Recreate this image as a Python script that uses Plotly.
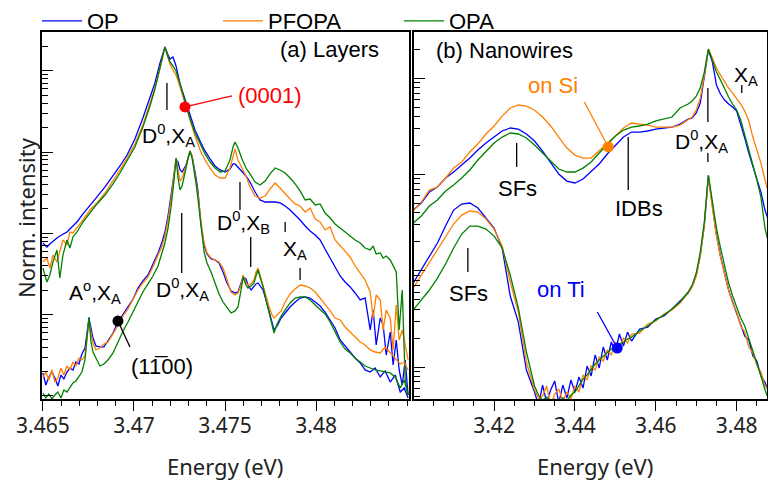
import numpy as np
import plotly.graph_objects as go

# ---------------- DATA ----------------
# Intensities are stored as log10(normalized intensity).
samples = ["OP", "PFOPA", "OPA"]
colors = {"OP": "#0000ff", "PFOPA": "#ff7f00", "OPA": "#008000"}

# Panel (a) Layers, upper group: (0001) layers
a_top_energy = [3.46500, 3.46522, 3.46538, 3.46555, 3.46577, 3.46593, 3.46610, 3.46632, 3.46648, 3.46665,
                3.46687, 3.46720, 3.46758, 3.46797, 3.46841, 3.46885, 3.46923, 3.46962, 3.47005, 3.47049,
                3.47088, 3.47115, 3.47143, 3.47159, 3.47170, 3.47187, 3.47198, 3.47214, 3.47231, 3.47253,
                3.47280, 3.47308, 3.47335, 3.47363, 3.47390, 3.47418, 3.47445, 3.47473, 3.47500, 3.47527,
                3.47544, 3.47555, 3.47571, 3.47593, 3.47615, 3.47637, 3.47665, 3.47692, 3.47720, 3.47747,
                3.47775, 3.47802, 3.47830, 3.47857, 3.47885, 3.47912, 3.47940, 3.47967, 3.47995, 3.48022,
                3.48049, 3.48077, 3.48104, 3.48132, 3.48159, 3.48187, 3.48214, 3.48242, 3.48269, 3.48297,
                3.48313, 3.48330, 3.48352, 3.48368, 3.48385, 3.48407, 3.48423, 3.48440, 3.48456, 3.48473,
                3.48489, 3.48505]
a_top_op = [1.882, 1.833, 1.870, 1.907, 1.943, 1.968, 1.993, 2.017, 2.054, 2.091,
            2.140, 2.239, 2.337, 2.448, 2.571, 2.706, 2.829, 2.964, 3.161, 3.419,
            3.665, 3.850, 4.096, 4.231, 4.293, 4.194, 4.145, 4.170, 4.059, 3.838,
            3.653, 3.432, 3.272, 3.137, 3.014, 2.915, 2.829, 2.780, 2.755, 2.792,
            2.854, 2.854, 2.817, 2.768, 2.706, 2.632, 2.509, 2.411, 2.386, 2.386,
            2.386, 2.374, 2.337, 2.288, 2.226, 2.165, 2.091, 2.030, 1.980, 1.919,
            1.808, 1.697, 1.599, 1.476, 1.402, 1.341, 1.267, 1.181, 1.205, 0.812,
            1.058, 0.627, 0.959, 0.873, 0.504, 0.787, 0.381, 0.689, 0.320, 0.135,
            0.443, 0.012]
a_top_pfopa = [1.648, 1.697, 1.574, 1.734, 1.648, 1.796, 1.919, 1.857, 2.017, 2.005,
               2.066, 2.165, 2.288, 2.374, 2.497, 2.644, 2.780, 2.927, 3.100, 3.333,
               3.592, 3.788, 4.034, 4.194, 4.293, 4.158, 4.084, 4.010, 3.948, 3.801,
               3.604, 3.383, 3.198, 3.026, 2.903, 2.804, 2.718, 2.681, 2.681, 2.804,
               2.964, 3.038, 2.903, 2.804, 2.706, 2.571, 2.460, 2.435, 2.460, 2.546,
               2.620, 2.558, 2.485, 2.423, 2.362, 2.337, 2.263, 2.312, 2.177, 2.140,
               2.042, 2.079, 1.919, 1.845, 1.771, 1.710, 1.599, 1.513, 1.427, 1.279,
               0.959, 1.242, 1.181, 0.812, 1.058, 0.959, 0.566, 1.119, 0.689, 0.812,
               0.627, 0.443]
a_top_opa = [1.574, 1.402, 1.488, 1.648, 1.796, 1.451, 1.734, 1.919, 1.820, 1.956,
             2.017, 2.140, 2.251, 2.362, 2.472, 2.608, 2.743, 2.891, 3.063, 3.309,
             3.567, 3.776, 4.047, 4.207, 4.293, 4.170, 4.108, 4.059, 3.998, 3.838,
             3.628, 3.407, 3.235, 3.100, 2.977, 2.878, 2.804, 2.755, 2.768, 2.903,
             3.063, 3.124, 3.050, 2.915, 2.804, 2.731, 2.632, 2.595, 2.644, 2.731,
             2.804, 2.780, 2.743, 2.681, 2.608, 2.522, 2.411, 2.423, 2.349, 2.362,
             2.251, 2.189, 2.116, 2.066, 2.017, 1.968, 1.919, 1.882, 1.820, 1.796,
             1.845, 1.747, 1.759, 1.697, 1.722, 1.673, 1.599, 1.525, 0.812, 1.304,
             0.197, 0.012]

# Panel (a) Layers, lower group: (1-100) layers
a_bot_energy = [3.46500, 3.46516, 3.46533, 3.46549, 3.46566, 3.46582, 3.46599, 3.46615, 3.46632, 3.46648,
                3.46665, 3.46681, 3.46698, 3.46714, 3.46731, 3.46742, 3.46753, 3.46764, 3.46775, 3.46791,
                3.46813, 3.46835, 3.46857, 3.46885, 3.46912, 3.46940, 3.46967, 3.46995, 3.47022, 3.47049,
                3.47077, 3.47104, 3.47132, 3.47154, 3.47170, 3.47187, 3.47203, 3.47220, 3.47231, 3.47242,
                3.47253, 3.47264, 3.47275, 3.47286, 3.47297, 3.47308, 3.47319, 3.47330, 3.47341, 3.47352,
                3.47368, 3.47385, 3.47401, 3.47423, 3.47445, 3.47467, 3.47489, 3.47511, 3.47533, 3.47555,
                3.47571, 3.47588, 3.47599, 3.47615, 3.47626, 3.47643, 3.47659, 3.47670, 3.47681, 3.47692,
                3.47709, 3.47725, 3.47742, 3.47758, 3.47769, 3.47786, 3.47808, 3.47830, 3.47857, 3.47885,
                3.47912, 3.47940, 3.47967, 3.47995, 3.48022, 3.48049, 3.48077, 3.48104, 3.48132, 3.48159,
                3.48187, 3.48214, 3.48242, 3.48269, 3.48297, 3.48324, 3.48352, 3.48379, 3.48407, 3.48434,
                3.48462, 3.48484, 3.48505]
a_bot_op = [0.283, 0.135, 0.234, 0.295, 0.221, 0.123, 0.258, 0.209, 0.295, 0.344,
            0.320, 0.418, 0.394, 0.517, 0.590, 0.812, 0.959, 0.836, 0.713, 0.615,
            0.603, 0.603, 0.677, 0.775, 0.910, 1.009, 1.095, 1.193, 1.328, 1.415,
            1.488, 1.611, 1.759, 1.894, 2.017, 2.214, 2.460, 2.755, 2.903, 2.878,
            2.780, 2.755, 2.792, 2.841, 2.927, 3.001, 2.952, 2.829, 2.681, 2.509,
            2.103, 1.857, 1.747, 1.685, 1.673, 1.636, 1.525, 1.390, 1.292, 1.267,
            1.279, 1.390, 1.464, 1.439, 1.365, 1.304, 1.341, 1.378, 1.390, 1.353,
            1.304, 1.181, 1.033, 0.898, 0.812, 0.861, 0.959, 1.021, 1.095, 1.156,
            1.205, 1.218, 1.205, 1.156, 1.107, 1.033, 0.935, 0.836, 0.689, 0.615,
            0.541, 0.467, 0.406, 0.320, 0.295, 0.344, 0.234, 0.308, 0.172, 0.258,
            0.049, 0.098, -0.025]
a_bot_pfopa = [0.234, 0.295, 0.197, 0.320, 0.172, 0.221, 0.344, 0.258, 0.369, 0.320,
               0.418, 0.369, 0.467, 0.443, 0.492, 0.750, 0.935, 0.775, 0.652, 0.566,
               0.590, 0.640, 0.664, 0.763, 0.873, 0.984, 1.070, 1.181, 1.304, 1.390,
               1.464, 1.587, 1.722, 1.845, 1.968, 2.165, 2.411, 2.718, 2.927, 2.780,
               2.644, 2.681, 2.743, 2.829, 2.927, 3.014, 2.952, 2.804, 2.657, 2.472,
               2.140, 1.882, 1.759, 1.697, 1.673, 1.648, 1.574, 1.427, 1.279, 1.242,
               1.267, 1.365, 1.488, 1.390, 1.365, 1.378, 1.427, 1.525, 1.574, 1.488,
               1.365, 1.230, 1.095, 0.996, 0.959, 0.996, 1.046, 1.156, 1.255, 1.316,
               1.365, 1.353, 1.328, 1.279, 1.205, 1.132, 1.046, 0.959, 0.935, 0.849,
               0.787, 0.726, 0.664, 0.627, 0.566, 0.541, 0.529, 0.603, 0.529, 0.467,
               0.394, 0.418, 0.320]
a_bot_opa = [0.037, -0.025, 0.025, -0.037, 0.012, 0.049, -0.025, 0.074, 0.049, 0.098,
             0.160, 0.185, 0.246, 0.295, 0.443, 0.713, 0.972, 0.664, 0.541, 0.467,
             0.369, 0.394, 0.443, 0.529, 0.664, 0.800, 0.910, 1.033, 1.156, 1.279,
             1.378, 1.476, 1.599, 1.747, 1.882, 2.066, 2.312, 2.657, 2.927, 2.681,
             2.534, 2.583, 2.681, 2.804, 2.927, 3.014, 2.927, 2.780, 2.608, 2.411,
             2.066, 1.771, 1.636, 1.525, 1.390, 1.255, 1.156, 1.095, 1.021, 1.046,
             1.095, 1.304, 1.464, 1.365, 1.328, 1.353, 1.390, 1.476, 1.550, 1.464,
             1.341, 1.181, 1.021, 0.849, 0.775, 0.886, 0.984, 1.058, 1.144, 1.205,
             1.218, 1.218, 1.181, 1.119, 1.058, 1.009, 0.910, 0.787, 0.664, 0.578,
             0.529, 0.467, 0.418, 0.369, 0.344, 0.320, 0.308, 0.295, 0.283, 0.234,
             0.098, 0.197, 0.012]

# Panel (b) Nanowires, upper group: on Si
b_top_energy = [3.400, 3.402, 3.404, 3.406, 3.408, 3.410, 3.412, 3.414, 3.416, 3.418,
                3.420, 3.422, 3.424, 3.426, 3.428, 3.430, 3.432, 3.434, 3.436, 3.438,
                3.440, 3.442, 3.444, 3.446, 3.448, 3.450, 3.452, 3.454, 3.456, 3.458,
                3.460, 3.462, 3.464, 3.466, 3.468, 3.469, 3.470, 3.471, 3.472, 3.473,
                3.474, 3.475, 3.476, 3.477, 3.478, 3.479, 3.480, 3.481, 3.482, 3.483,
                3.484, 3.485, 3.486, 3.487, 3.488]
b_top_op = [1.630, 1.703, 1.817, 1.869, 1.963, 2.025, 2.098, 2.170, 2.253, 2.326,
            2.388, 2.451, 2.482, 2.471, 2.420, 2.347, 2.243, 2.118, 2.004, 1.931,
            1.911, 1.952, 2.025, 2.108, 2.212, 2.295, 2.388, 2.440, 2.440, 2.451,
            2.471, 2.482, 2.492, 2.523, 2.575, 2.586, 2.638, 2.741, 3.001, 3.292,
            3.167, 2.928, 2.835, 2.773, 2.731, 2.700, 2.658, 2.523, 2.378, 2.222,
            2.087, 1.963, 1.817, 1.630, 1.505]
b_top_pfopa = [1.620, 1.713, 1.838, 1.869, 1.963, 2.066, 2.129, 2.233, 2.316, 2.420,
               2.503, 2.606, 2.690, 2.721, 2.710, 2.669, 2.596, 2.503, 2.388, 2.274,
               2.201, 2.170, 2.170, 2.243, 2.316, 2.399, 2.482, 2.534, 2.523, 2.513,
               2.492, 2.492, 2.492, 2.513, 2.565, 2.596, 2.669, 2.793, 3.032, 3.302,
               3.209, 3.105, 3.032, 2.960, 2.897, 2.845, 2.793, 2.731, 2.658, 2.555,
               2.388, 2.253, 2.118, 1.942, 1.786]
b_top_opa = [1.495, 1.568, 1.672, 1.734, 1.828, 1.890, 1.963, 2.046, 2.150, 2.243,
             2.326, 2.388, 2.430, 2.420, 2.378, 2.305, 2.222, 2.129, 2.056, 2.025,
             2.025, 2.066, 2.129, 2.222, 2.316, 2.399, 2.461, 2.492, 2.503, 2.523,
             2.555, 2.575, 2.596, 2.690, 2.731, 2.762, 2.814, 2.897, 3.063, 3.302,
             3.188, 3.063, 2.980, 2.887, 2.804, 2.731, 2.669, 2.565, 2.399, 2.253,
             2.098, 1.942, 1.765, 1.443, 1.267]

# Panel (b) Nanowires, lower group: on Ti
b_bot_energy = [3.400, 3.402, 3.404, 3.406, 3.408, 3.410, 3.412, 3.414, 3.416, 3.418,
                3.420, 3.422, 3.424, 3.426, 3.428,
                3.430, 3.431, 3.432, 3.433, 3.434, 3.435, 3.436, 3.437, 3.438, 3.439,
                3.440, 3.441, 3.442, 3.443, 3.444, 3.445, 3.446, 3.447, 3.448, 3.449,
                3.450, 3.451, 3.452, 3.453, 3.454,
                3.456, 3.458, 3.460, 3.462, 3.464, 3.466, 3.468,
                3.469, 3.470, 3.471, 3.472, 3.473, 3.474, 3.475, 3.476, 3.477, 3.478,
                3.479, 3.480, 3.481, 3.482, 3.483, 3.484, 3.485, 3.486, 3.487, 3.488]
b_bot_op = [0.872, 1.007, 1.142, 1.288, 1.464, 1.630, 1.692, 1.703, 1.651, 1.547,
            1.443, 1.236, 0.737, 0.467, -0.031,
            -0.260, -0.395, -0.187, -0.364, -0.239, -0.145, -0.374, -0.187, -0.322, -0.135,
            -0.260, -0.104, -0.218, 0.010, -0.093, 0.125, -0.010, 0.208, 0.073, 0.260,
            0.156, 0.343, 0.218, 0.363, 0.270,
            0.395, 0.415, 0.498, 0.530, 0.602, 0.685, 0.768,
            0.841, 0.955, 1.163, 1.475, 1.983, 1.661, 1.371, 1.152, 0.976, 0.800,
            0.675, 0.550, 0.447, 0.322, 0.280, 0.114, 0.062, -0.093, -0.156, -0.280]
b_bot_pfopa = [0.820, 0.955, 1.090, 1.225, 1.360, 1.485, 1.578, 1.620, 1.609, 1.537,
               1.433, 1.256, 0.883, 0.571, 0.052,
               -0.239, -0.322, -0.301, -0.197, -0.395, -0.280, -0.228, -0.353, -0.260, -0.332,
               -0.197, -0.260, -0.083, -0.135, 0.010, -0.031, 0.104, 0.062, 0.177, 0.125,
               0.260, 0.197, 0.301, 0.249, 0.343,
               0.353, 0.447, 0.478, 0.550, 0.592, 0.665, 0.768,
               0.831, 0.945, 1.152, 1.464, 1.973, 1.651, 1.360, 1.142, 0.965, 0.800,
               0.665, 0.571, 0.426, 0.363, 0.208, 0.145, 0.021, -0.052, -0.197, -0.239]
b_bot_opa = [0.592, 0.696, 0.800, 0.924, 1.070, 1.236, 1.381, 1.464, 1.464, 1.433,
             1.360, 1.236, 0.955, 0.613, 0.156,
             -0.197, -0.291, -0.343, -0.312, -0.364, -0.332, -0.384, -0.322, -0.353, -0.291,
             -0.260, -0.197, -0.125, -0.083, -0.021, 0.031, 0.073, 0.114, 0.145, 0.187,
             0.208, 0.239, 0.260, 0.291, 0.311,
             0.374, 0.426, 0.488, 0.540, 0.602, 0.675, 0.779,
             0.852, 0.976, 1.194, 1.505, 1.994, 1.692, 1.443, 1.236, 1.048, 0.872,
             0.737, 0.633, 0.509, 0.426, 0.301, 0.177, 0.052, -0.093, -0.239, -0.343]

# Labelled points (energy, log10 intensity)
mark_0001 = (3.47280, 3.555)
mark_1100 = (3.46912, 0.922)
mark_si = (3.44825, 2.285)
mark_ti = (3.45047, 0.197)

x_ticks_a = [3.465, 3.47, 3.475, 3.48]
x_ticks_b = [3.42, 3.44, 3.46, 3.48]

# ---------------- FIGURE ----------------
W, H = 768, 481
fig = go.Figure()

groups = [
    ("x", "y", a_top_energy, {"OP": a_top_op, "PFOPA": a_top_pfopa, "OPA": a_top_opa}),
    ("x", "y", a_bot_energy, {"OP": a_bot_op, "PFOPA": a_bot_pfopa, "OPA": a_bot_opa}),
    ("x2", "y2", b_top_energy, {"OP": b_top_op, "PFOPA": b_top_pfopa, "OPA": b_top_opa}),
    ("x2", "y2", b_bot_energy, {"OP": b_bot_op, "PFOPA": b_bot_pfopa, "OPA": b_bot_opa}),
]
shown = set()
for xa, ya, en, series in groups:
    for s in samples:
        fig.add_trace(go.Scatter(
            x=en, y=np.power(10.0, series[s]), mode="lines", name=s,
            line=dict(color=colors[s], width=1.3),
            legendgroup=s, showlegend=(s not in shown), xaxis=xa, yaxis=ya,
            hoverinfo="skip"))
        shown.add(s)

ANN_FONT = "Liberation Sans, Arial, sans-serif"
AX_FONT = "Noto Sans, sans-serif"

def txt(x, y, t, xref="x", yref="y", color="black", size=21):
    # annotation y on a log axis is given as log10
    fig.add_annotation(x=x, y=y, xref=xref, yref=yref, text=t, showarrow=False,
                       font=dict(family=ANN_FONT, size=size, color=color),
                       xanchor="center", yanchor="middle")

def seg(x0, l0, x1, l1, xref="x", yref="y", color="black", width=1.3):
    # shape y on a log axis is given in data units
    fig.add_shape(type="line", x0=x0, y0=10 ** l0, x1=x1, y1=10 ** l1, xref=xref, yref=yref,
                  line=dict(color=color, width=width), layer="above")

D0XA = "D<sup>0</sup>,X<sub>A</sub>"
# panel (a)
txt(3.48071, 4.256, "(a) Layers", size=22)
txt(3.47747, 3.690, "(0001)", color="#ff0000", size=22)
seg(3.47280, 3.555, 3.47538, 3.690, color="#ff0000")
txt(3.47187, 3.210, D0XA)
seg(3.47181, 3.850, 3.47181, 3.518)
txt(3.47264, 1.304, D0XA)
seg(3.47262, 2.251, 3.47262, 1.513)
txt(3.47599, 2.140, "D<sup>0</sup>,X<sub>B</sub>")
seg(3.47582, 2.632, 3.47582, 2.288)
seg(3.47641, 1.956, 3.47641, 1.587)
txt(3.47885, 1.796, "X<sub>A</sub>")
seg(3.47830, 2.140, 3.47830, 2.017)
seg(3.47912, 1.574, 3.47912, 1.427)
txt(3.46786, 1.279, "A<sup>o</sup>,X<sub>A</sub>")
seg(3.46912, 0.922, 3.46978, 0.603)
txt(3.47154, 0.357, "(11\u030500)", size=22)
# panel (b)
txt(3.42264, 3.292, "(b) Nanowires", "x2", "y2", size=22)
txt(3.43446, 2.928, "on Si", "x2", "y2", color="#ff7f00", size=22)
seg(3.44234, 2.752, 3.44825, 2.285, "x2", "y2", color="#ff7f00")
txt(3.42584, 1.859, "SFs", "x2", "y2", size=22)
seg(3.42559, 2.326, 3.42559, 2.077, "x2", "y2")
txt(3.45589, 1.651, "IDBs", "x2", "y2", size=22)
seg(3.45318, 2.388, 3.45318, 1.838, "x2", "y2")
txt(3.47140, 2.347, D0XA, "x2", "y2")
seg(3.47288, 2.897, 3.47288, 2.544, "x2", "y2")
seg(3.47288, 2.222, 3.47288, 2.129, "x2", "y2")
txt(3.48224, 3.022, "X<sub>A</sub>", "x2", "y2")
seg(3.48126, 2.928, 3.48126, 2.845, "x2", "y2")
txt(3.41377, 0.768, "SFs", "x2", "y2", size=22)
seg(3.41352, 1.236, 3.41352, 0.986, "x2", "y2")
txt(3.43667, 0.800, "on Ti", "x2", "y2", color="#0000ff", size=22)
seg(3.44554, 0.571, 3.45047, 0.197, "x2", "y2", color="#0000ff")

# markers (drawn after lines)
for (px, pl), col, xa, ya in [(mark_0001, "#ff0000", "x", "y"), (mark_1100, "#000000", "x", "y"),
                              (mark_si, "#ff7f00", "x2", "y2"), (mark_ti, "#0000ff", "x2", "y2")]:
    fig.add_trace(go.Scatter(x=[px], y=[10 ** pl], mode="markers",
                             marker=dict(color=col, size=11), showlegend=False,
                             xaxis=xa, yaxis=ya, hoverinfo="skip"))

# axis titles
for xp, yp, t, ang in [(225, 466, "Energy (eV)", 0), (595, 466, "Energy (eV)", 0),
                       (26, 218, "Norm. intensity", -90)]:
    fig.add_annotation(x=xp / W, y=1 - yp / H, xref="paper", yref="paper", text=t,
                       xanchor="center", yanchor="middle", showarrow=False, textangle=ang,
                       font=dict(family=AX_FONT, size=22, color="#222"))

minor_a = [k * 10.0 ** n for n in range(0, 5) for k in range(2, 10)]
minor_b = [k * 10.0 ** n for n in range(-1, 4) for k in range(2, 10)]

ydom = [1 - 399 / H, 1 - 32 / H]
common_x = dict(showline=True, linecolor="black", linewidth=1.5, mirror=True, showgrid=False,
                zeroline=False, ticks="outside", ticklen=10, tickwidth=1.3, tickcolor="black",
                automargin=False, ticklabelstandoff=-3,
                tickfont=dict(family=AX_FONT, size=21, color="#222"))
common_y = dict(type="log", showline=True, linecolor="black", linewidth=1.5, mirror=True,
                showgrid=False, zeroline=False, ticks="inside", ticklen=11, tickwidth=1.3,
                automargin=False,
                tickcolor="black", showticklabels=False, tickvals=[1, 10, 100, 1000, 10000])

fig.update_layout(
    width=W, height=H, margin=dict(l=0, r=0, t=0, b=0, autoexpand=False),
    paper_bgcolor="white", plot_bgcolor="white",
    xaxis=dict(domain=[42 / W, 409 / W], range=[3.46495, 3.4851], anchor="y",
               tickvals=x_ticks_a, ticktext=["3.465", "3.47", "3.475", "3.48"],
               minor=dict(ticks="outside", ticklen=5, tickwidth=1.1, tickcolor="black",
                          dtick=0.001, tick0=3.465), **common_x),
    yaxis=dict(domain=ydom, range=[-0.037, 4.477], anchor="x",
               minor=dict(ticks="inside", ticklen=6, tickwidth=1.1, tickcolor="black",
                          tickvals=minor_a), **common_y),
    xaxis2=dict(domain=[414 / W, 767 / W], range=[3.4002, 3.4875], anchor="y2",
                tickvals=x_ticks_b, ticktext=["3.42", "3.44", "3.46", "3.48"],
                minor=dict(ticks="outside", ticklen=5, tickwidth=1.1, tickcolor="black",
                           dtick=0.005, tick0=3.40), **common_x),
    yaxis2=dict(domain=ydom, range=[-0.332, 3.479], anchor="x2",
                minor=dict(ticks="inside", ticklen=6, tickwidth=1.1, tickcolor="black",
                           tickvals=minor_b), **common_y),
    legend=dict(orientation="h", x=37 / W, y=1.0, xanchor="left", yanchor="top",
                font=dict(family=ANN_FONT, size=22, color="black"), bgcolor="rgba(0,0,0,0)",
                itemwidth=40, entrywidth=126, entrywidthmode="pixels"),
    showlegend=True,
)

fig.write_html("out.html")
